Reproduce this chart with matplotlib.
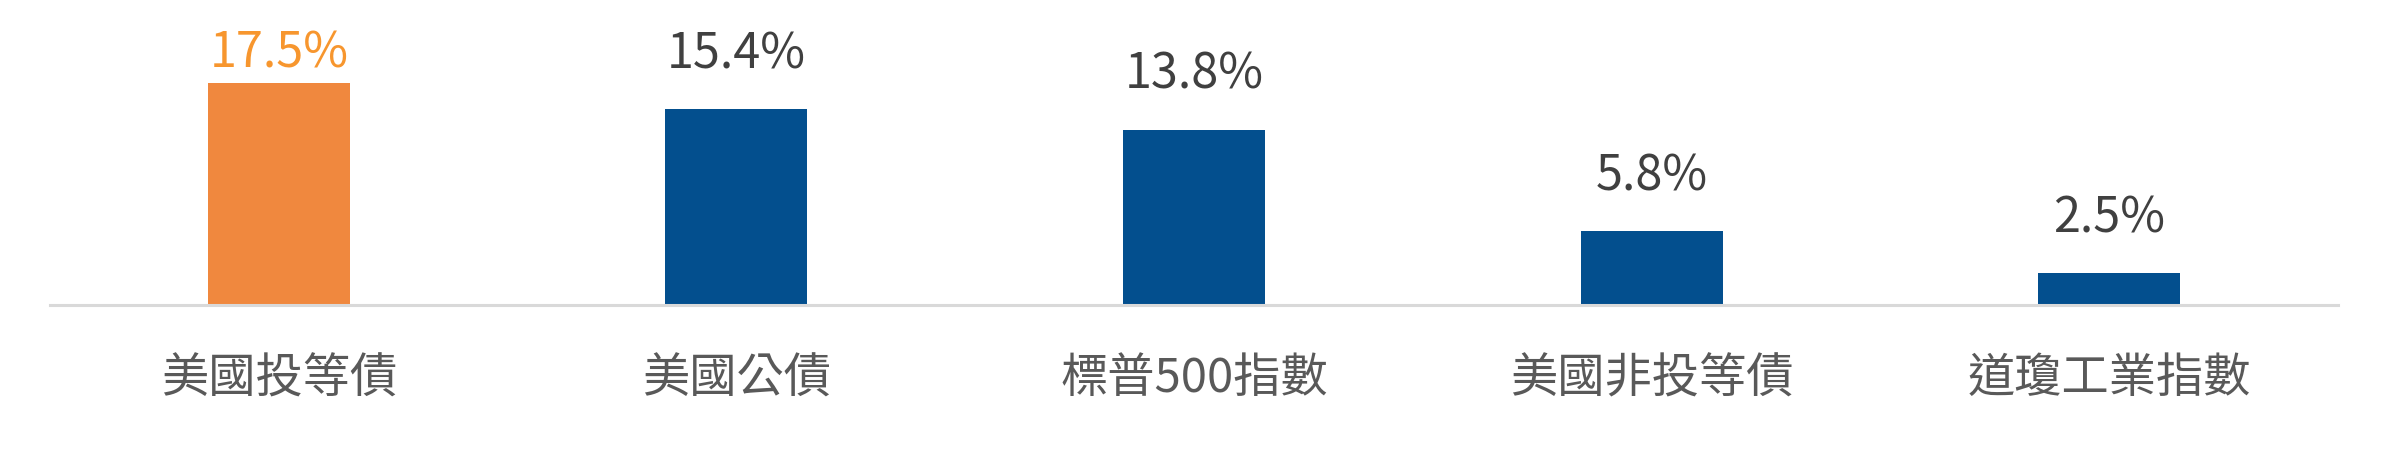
import matplotlib.pyplot as plt

plt.rcParams['font.family'] = ['Noto Sans CJK TC', 'DejaVu Sans']

# data
categories = ["美國投等債", "美國公債", "標普500指數", "美國非投等債", "道瓊工業指數"]
values     = [17.5, 15.4, 13.8, 5.8, 2.5]
labels     = ["17.5%", "15.4%", "13.8%", "5.8%", "2.5%"]
highlight  = 0   # index of the orange bar

fig = plt.figure(figsize=(23.89, 4.54), dpi=100)
ax = fig.add_axes([50/2389, 1 - 305/454, (2338-50)/2389, 305/454])

x = range(len(categories))
bar_colors = ["#F0883E" if i == highlight else "#034F8E" for i in x]
bars = ax.bar(x, values, width=0.31, color=bar_colors, zorder=2)

for i, (b, lab) in enumerate(zip(bars, labels)):
    if i == highlight:
        c, off = "#F7962E", 11
    else:
        c, off = "#404040", 29.5
    ax.annotate(lab, (b.get_x() + b.get_width()/2, b.get_height()),
                xytext=(0, off), textcoords="offset points",
                ha="center", va="baseline", fontsize=35, color=c)

ax.set_xlim(-0.5, len(categories) - 0.5)
ax.set_ylim(0, 24)
ax.set_xticks(list(x))
ax.set_xticklabels(categories, fontsize=34, color="#595959")
ax.tick_params(axis="x", length=0, pad=36)
ax.set_yticks([])

for s in ["top", "right", "left"]:
    ax.spines[s].set_visible(False)
ax.spines["bottom"].set_color("#D9D9D9")
ax.spines["bottom"].set_linewidth(2.2)
ax.patch.set_alpha(0)

fig.savefig("out.png", dpi=100)
